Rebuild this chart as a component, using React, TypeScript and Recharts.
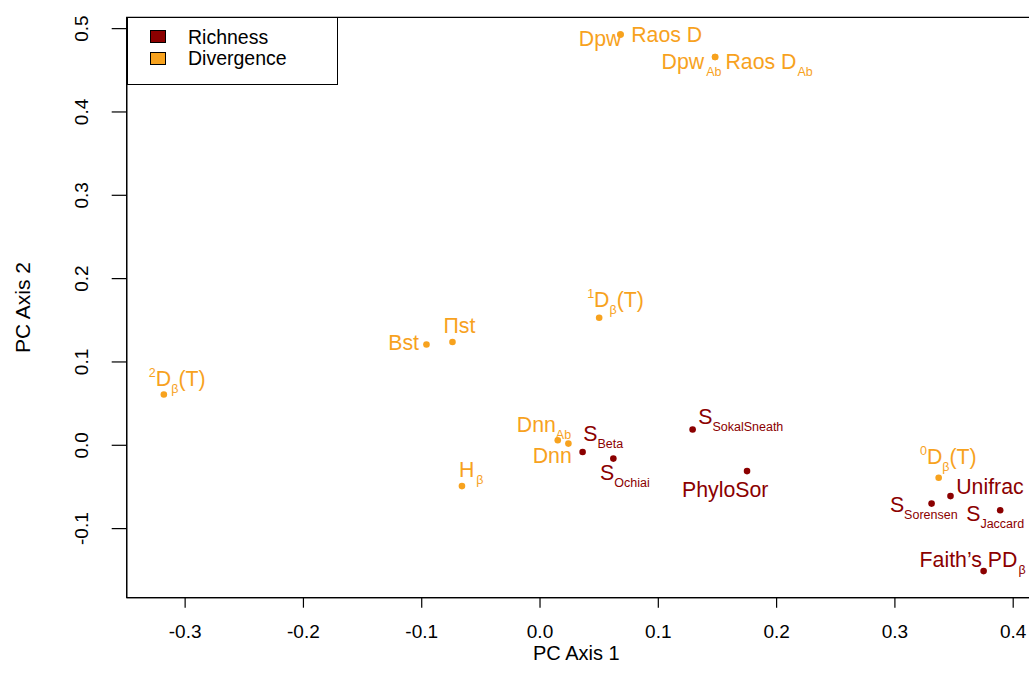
import React from "react";
import {
  ScatterChart,
  Scatter,
  XAxis,
  YAxis,
  ReferenceArea,
} from "recharts";

// PCA scores
const richnessIds = ["sokal", "sBeta", "ochiai", "phyloSor", "unifrac", "sorensen", "jaccard", "faithPD"];
const richnessX = [0.129, 0.036, 0.062, 0.175, 0.347, 0.331, 0.389, 0.375];
const richnessY = [0.019, -0.008, -0.016, -0.031, -0.061, -0.07, -0.078, -0.151];

const divergenceIds = ["dpw", "raos", "dpwAb", "raosAb", "d1", "bst", "pist", "d2", "dnnAb", "dnn", "hBeta", "d0"];
const divergenceX = [0.068, 0.068, 0.148, 0.148, 0.05, -0.096, -0.074, -0.318, 0.015, 0.024, -0.066, 0.337];
const divergenceY = [0.493, 0.493, 0.466, 0.466, 0.153, 0.121, 0.124, 0.061, 0.006, 0.002, -0.049, -0.039];

const xTicks = [-0.3, -0.2, -0.1, 0, 0.1, 0.2, 0.3, 0.4];
const yTicks = [-0.1, 0, 0.1, 0.2, 0.3, 0.4, 0.5];
const xDomain = [-0.3494, 0.4175];
const yDomain = [-0.1829, 0.5136];

const seriesNames = ["Richness", "Divergence"];
const RICH = "#8B0000";
const DIV = "#F7A21E";
const FONT = "'Liberation Sans', Arial, Helvetica, sans-serif";

type Part = { t: string; k?: "sub" | "sup"; gap?: number };

// label text (plotmath-style pieces)
const labelText: Record<string, Part[]> = {
  sokal: [{ t: "S" }, { t: "SokalSneath", k: "sub" }],
  sBeta: [{ t: "S" }, { t: "Beta", k: "sub" }],
  ochiai: [{ t: "S" }, { t: "Ochiai", k: "sub" }],
  phyloSor: [{ t: "PhyloSor" }],
  unifrac: [{ t: "Unifrac" }],
  sorensen: [{ t: "S" }, { t: "Sorensen", k: "sub" }],
  jaccard: [{ t: "S" }, { t: "Jaccard", k: "sub" }],
  faithPD: [{ t: "Faith\u2019s PD" }, { t: "\u03b2", k: "sub", gap: 1 }],
  dpw: [{ t: "Dpw" }],
  raos: [{ t: "Raos D" }],
  dpwAb: [{ t: "Dpw" }, { t: "Ab", k: "sub", gap: 2 }],
  raosAb: [{ t: "Raos D" }, { t: "Ab", k: "sub", gap: 1 }],
  d1: [{ t: "1", k: "sup" }, { t: "D" }, { t: "\u03b2", k: "sub" }, { t: "(T)" }],
  bst: [{ t: "Bst" }],
  pist: [{ t: "\u03a0st" }],
  d2: [{ t: "2", k: "sup" }, { t: "D" }, { t: "\u03b2", k: "sub" }, { t: "(T)" }],
  dnnAb: [{ t: "Dnn" }, { t: "Ab", k: "sub" }],
  dnn: [{ t: "Dnn" }],
  hBeta: [{ t: "H" }, { t: "\u03b2", k: "sub", gap: 2 }],
  d0: [{ t: "0", k: "sup" }, { t: "D" }, { t: "\u03b2", k: "sub" }, { t: "(T)" }],
};

// label placement relative to the point (px)
const labelPos: Record<string, [number, number, "start" | "end"]> = {
  sokal: [5.6, -5.3, "start"],
  sBeta: [0.6, -11, "start"],
  ochiai: [-13.3, 21.7, "start"],
  phyloSor: [-65, 25.7, "start"],
  unifrac: [5.7, -2.4, "start"],
  sorensen: [-41.7, 8.4, "start"],
  jaccard: [-34, 10.7, "start"],
  faithPD: [-64, -4, "start"],
  dpw: [1, 12, "end"],
  raos: [10.7, 7.7, "start"],
  dpwAb: [6.4, 11.6, "end"],
  raosAb: [10.4, 11.6, "start"],
  d1: [-12, -11, "start"],
  bst: [-7.4, 6, "end"],
  pist: [-9, -8.6, "start"],
  d2: [-15, -8.3, "start"],
  dnnAb: [13.4, -8.3, "end"],
  dnn: [3.4, 19.4, "end"],
  hBeta: [-3, -9.3, "start"],
  d0: [-18.7, -14, "start"],
};

const richnessData = richnessIds.map((id, i) => ({ id, x: richnessX[i], y: richnessY[i] }));
const divergenceData = divergenceIds.map((id, i) => ({ id, x: divergenceX[i], y: divergenceY[i] }));

function LabelledDot(props: any, color: string) {
  const { cx, cy, payload } = props;
  const parts = labelText[payload.id] || [];
  const [dx, dy, anchor] = labelPos[payload.id] || [6, 0, "start"];
  let level = 0;
  const spans = parts.map((p, i) => {
    const target = p.k === "sub" ? 7 : p.k === "sup" ? -9 : 0;
    const shift = target - level;
    level = target;
    return (
      <tspan
        key={i}
        dy={shift}
        dx={p.gap || 0}
        fontSize={p.k ? 12.5 : 21.3}
      >
        {p.t}
      </tspan>
    );
  });
  return (
    <g>
      <circle cx={cx} cy={cy} r={3.3} fill={color} />
      <text
        x={cx + dx}
        y={cy + dy}
        textAnchor={anchor}
        fill={color}
        fontFamily={FONT}
        fontSize={21.3}
      >
        {spans}
      </text>
    </g>
  );
}

const YTick = (props: any) => {
  const { x, y, payload } = props;
  const bx = x - 23.5;
  return (
    <text
      x={bx}
      y={y}
      transform={`rotate(-90 ${bx} ${y})`}
      textAnchor="middle"
      fontSize={19}
      fontFamily={FONT}
      fill="#000"
    >
      {payload.value.toFixed(1)}
    </text>
  );
};

const XTitle = (props: any) => {
  const vb = props.viewBox;
  return (
    <text
      x={vb.x + vb.width / 2 - 4}
      y={660}
      textAnchor="middle"
      fontSize={20}
      fontFamily={FONT}
      fill="#000"
    >
      PC Axis 1
    </text>
  );
};

const YTitle = (props: any) => {
  const vb = props.viewBox;
  const cy = vb.y + vb.height / 2;
  return (
    <text
      x={30}
      y={cy}
      transform={`rotate(-90 30 ${cy})`}
      textAnchor="middle"
      fontSize={21}
      fontFamily={FONT}
      fill="#000"
    >
      PC Axis 2
    </text>
  );
};

const legendColors = [RICH, DIV];

export default function App() {
  return (
    <div
      style={{
        position: "absolute",
        left: 0,
        top: 0,
        width: 1029,
        height: 673,
        overflow: "hidden",
        background: "#fff",
      }}
    >
      <ScatterChart
        width={1050}
        height={673}
        margin={{ top: 17.3, right: 16.1, left: 0, bottom: 0 }}
      >
        <XAxis
          type="number"
          dataKey="x"
          domain={xDomain}
          ticks={xTicks}
          allowDataOverflow
          height={75.3}
          tickSize={10}
          tickMargin={17}
          tickFormatter={(v: number) => v.toFixed(1)}
          tick={{ fill: "#000", fontSize: 19, fontFamily: FONT }}
          axisLine={{ stroke: "#000", strokeWidth: 1.2 }}
          tickLine={{ stroke: "#000", strokeWidth: 1.2 }}
          label={<XTitle />}
        />
        <YAxis
          type="number"
          dataKey="y"
          domain={yDomain}
          ticks={yTicks}
          allowDataOverflow
          width={126.7}
          tickSize={15}
          tickMargin={0}
          tick={<YTick />}
          axisLine={{ stroke: "#000", strokeWidth: 1.2 }}
          tickLine={{ stroke: "#000", strokeWidth: 1.2 }}
          label={<YTitle />}
        />
        <ReferenceArea
          x1={xDomain[0]}
          x2={xDomain[1]}
          y1={yDomain[0]}
          y2={yDomain[1]}
          fill="none"
          stroke="#000"
          strokeWidth={1.2}
          fillOpacity={0}
          ifOverflow="visible"
        />
        <Scatter
          name={seriesNames[0]}
          data={richnessData}
          isAnimationActive={false}
          shape={(p: any) => LabelledDot(p, RICH)}
        />
        <Scatter
          name={seriesNames[1]}
          data={divergenceData}
          isAnimationActive={false}
          shape={(p: any) => LabelledDot(p, DIV)}
        />
      </ScatterChart>
      <div
        style={{
          position: "absolute",
          left: 127,
          top: 17,
          width: 211,
          height: 67.5,
          border: "1.2px solid #000",
          background: "#fff",
          fontFamily: FONT,
          fontSize: 19.5,
          color: "#000",
          boxSizing: "border-box",
        }}
      >
        {seriesNames.map((n, i) => (
          <div
            key={n}
            style={{
              position: "absolute",
              left: 22,
              top: 11.5 + i * 21.8,
              height: 14,
              display: "flex",
              alignItems: "center",
            }}
          >
            <span
              style={{
                display: "inline-block",
                width: 14,
                height: 11,
                background: legendColors[i],
                border: "1px solid #000",
              }}
            />
            <span style={{ marginLeft: 22, lineHeight: "14px" }}>{n}</span>
          </div>
        ))}
      </div>
    </div>
  );
}
